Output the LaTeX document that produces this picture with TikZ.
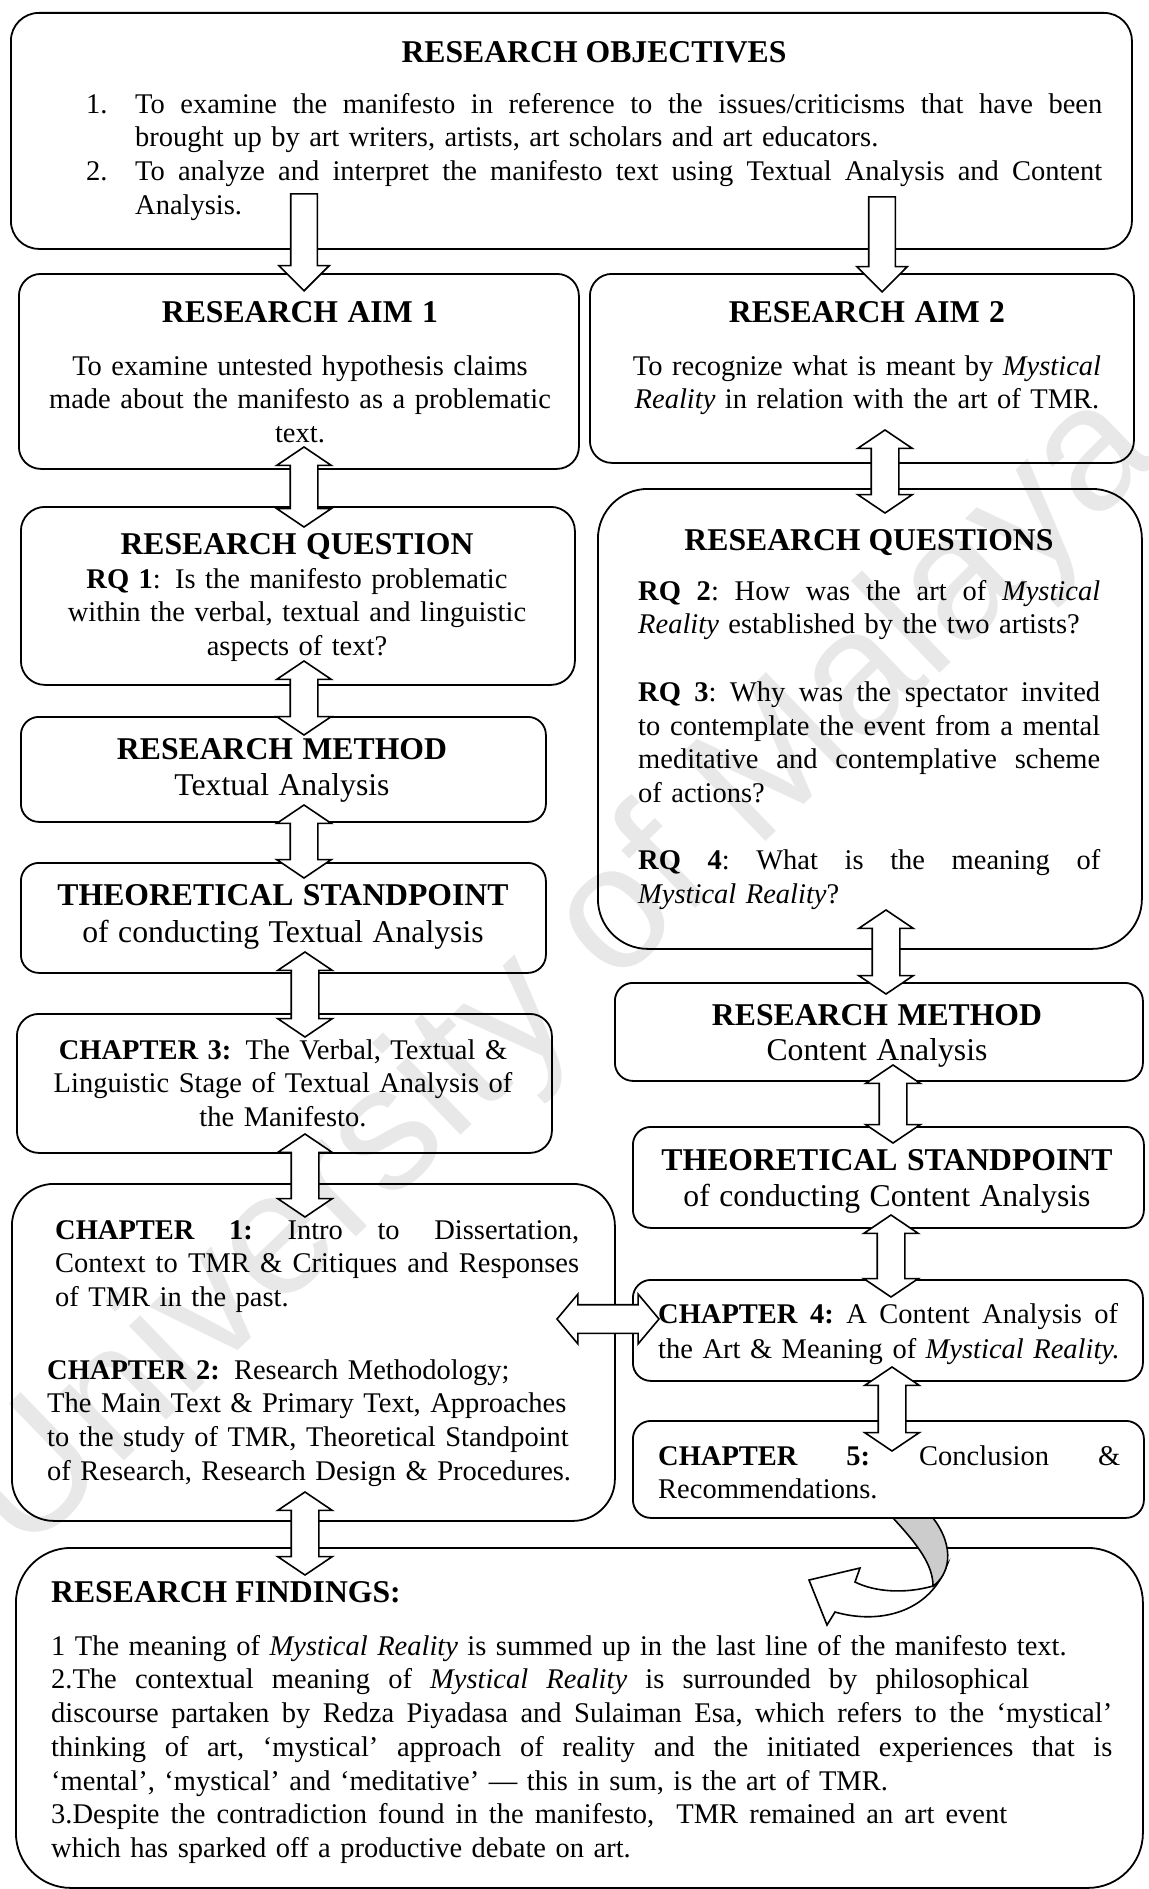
\documentclass[tikz,border=0pt]{standalone}
\usepackage{fontspec}
\setmainfont{Liberation Serif}
\newfontfamily\wmfamily{Liberation Sans}
\usetikzlibrary{shapes.arrows}

\newcommand{\bdf}{\fontsize{28.5pt}{33.7pt}\selectfont}
\newcommand{\hdf}{\fontsize{31.7pt}{36pt}\selectfont\bfseries}
\newcommand{\mdf}{\fontsize{31.7pt}{36pt}\selectfont}
% a line spread to a given width
\newcommand{\jl}[2]{\makebox[#1][s]{\frenchspacing\spaceskip=.25em plus 1fill\relax#2}}

\begin{document}
\begin{tikzpicture}[
  x=1pt, y=-1pt,
  font=\bdf,
  bx/.style={draw, line width=1.8pt, anchor=north west, inner sep=0pt, rounded corners=#1},
  bx/.default=18pt,
  txt/.style={anchor=north, yshift=23.59pt, inner sep=0pt, align=center},
  dbl/.style={double arrow, draw, fill=white, line width=1.6pt, inner xsep=0pt,
              inner ysep=13pt, double arrow head extend=13.5pt, double arrow tip angle=112},
  dblv/.style={dbl, rotate=90},
  sgl/.style={single arrow, draw, fill=white, line width=1.6pt, inner xsep=0pt,
              inner ysep=12.5pt, single arrow head extend=12pt, single arrow tip angle=90,
              rotate=-90, anchor=tip},
  curl/.style={draw, line width=1.6pt}
]
\useasboundingbox (0,0) rectangle (1148,1889);

\node[rotate=44, text=black!9, inner sep=0pt,
      font=\wmfamily\fontsize{176pt}{176pt}\selectfont] (wm) at (562,975) {University of Malaya};

% ---------------- boxes ----------------
\node[bx=28pt, minimum width=1121pt, minimum height=236pt] (obj)  at (10,12) {};
\node[bx=22pt, minimum width=560pt,  minimum height=195pt] (aimA) at (18,273) {};
\node[bx=22pt, minimum width=544pt,  minimum height=189pt] (aimB) at (589,273) {};
\node[bx=24pt, minimum width=554pt,  minimum height=178pt] (rqA)  at (20,506) {};
\node[bx,      minimum width=525pt,  minimum height=105pt] (rmA)  at (20,716) {};
\node[bx,      minimum width=525pt,  minimum height=110pt] (tsA)  at (20,862) {};
\node[bx=22pt, minimum width=535pt,  minimum height=139pt] (chC)  at (16,1013) {};
\node[bx=42pt, minimum width=603pt,  minimum height=337pt] (chAB) at (11,1183) {};
\node[bx=50pt, minimum width=544pt,  minimum height=460pt] (rqB)  at (597,488) {};
\node[bx,      minimum width=528pt,  minimum height=98pt]  (rmB)  at (614,982) {};
\node[bx,      minimum width=511pt,  minimum height=101pt] (tsB)  at (632,1126) {};
\node[bx,      minimum width=510pt,  minimum height=101pt] (chD)  at (632,1279) {};
\node[bx,      minimum width=511pt,  minimum height=97pt]  (chE)  at (632,1420) {};
\node[bx=55pt, minimum width=1127pt, minimum height=340pt] (find) at (15,1547) {};

% ---------------- block arrows ----------------
\node[sgl, minimum height=97pt] (oa1) at (304,292) {};
\node[sgl, minimum height=95pt] (oa2) at (882,293) {};

\node[dblv, minimum height=80pt] (l1) at (304,487) {};
\node[dblv, minimum height=74pt] (l2) at (304,698) {};
\node[dblv, minimum height=73pt] (l3) at (304,841.5) {};
\node[dblv, minimum height=85pt] (l4) at (305,994.5) {};
\node[dblv, minimum height=83pt] (l5) at (305,1175.5) {};
\node[dblv, minimum height=83pt] (l6) at (305,1533.5) {};

\node[dblv, minimum height=83pt] (r1) at (885,471.5) {};
\node[dblv, minimum height=84pt] (r2) at (886,952) {};
\node[dblv, minimum height=78pt] (r3) at (893,1104) {};
\node[dblv, minimum height=82pt] (r4) at (891,1256) {};
\node[dblv, minimum height=84pt] (r5) at (892,1409) {};

\node[dbl, minimum height=102pt, inner ysep=13.5pt, double arrow head extend=10.5pt,
      double arrow tip angle=100] (hx) at (608,1319) {};

% curled arrow from chapter 5 down to the findings
\draw[curl, fill=white] (933,1586) .. controls (905,1594) and (875,1592) .. (855,1582)
  -- (860,1568) -- (809,1580) -- (827,1625) -- (835,1612)
  .. controls (880,1625) and (930,1612) .. (947,1565) -- cycle;
\draw[curl, fill=black!20] (893,1518) .. controls (918,1545) and (933,1565) .. (933,1586)
  .. controls (949,1575) and (956,1548) .. (933,1518) -- cycle;

% ---------------- texts ----------------
\node[txt] (objH) at (594,62) {\strut{\hdf RESEARCH OBJECTIVES}};
\node[txt, anchor=north west, align=left, text width=1030pt] (objL) at (86,113)
  {\strut\makebox[49pt][l]{1.}\jl{967pt}{To examine the manifesto in reference to the issues/criticisms that have been}\\
   \hspace*{49pt}brought up by art writers, artists, art scholars and art educators.\\
   \makebox[49pt][l]{2.}\jl{967pt}{To analyze and interpret the manifesto text using Textual Analysis and Content}\\
   \hspace*{49pt}Analysis.};

\node[txt, text width=540pt] (aimAt) at (300,322)
  {\strut{\hdf RESEARCH AIM 1}\\[19.3pt]
   To examine untested hypothesis claims\\
   made about the manifesto as a problematic\\
   text.};
\node[txt, text width=520pt] (aimBt) at (867,322)
  {\strut{\hdf RESEARCH AIM 2}\\[19.3pt]
   To recognize what is meant by \textit{Mystical}\\
   \textit{Reality} in relation with the art of TMR.};

\node[txt, text width=530pt] (rqAt) at (297,554)
  {\strut{\hdf RESEARCH QUESTION}\\[0.3pt]
   \textbf{RQ 1}: Is the manifesto problematic\\
   within the verbal, textual and linguistic\\
   aspects of text?};
\node[txt, text width=500pt] (rmAt) at (282,759)
  {\strut{\hdf RESEARCH METHOD}\\[2.3pt] {\mdf Textual Analysis}};
\node[txt, text width=500pt] (tsAt) at (283,905)
  {\strut{\hdf THEORETICAL STANDPOINT}\\[3.3pt] {\mdf of conducting Textual Analysis}};
\node[txt, text width=520pt] (chCt) at (283,1059)
  {\strut\textbf{CHAPTER 3:} The Verbal, Textual \&\\
   Linguistic Stage of Textual Analysis of\\
   the Manifesto.};

\node[txt, anchor=north west, align=left, text width=540pt] (chAt) at (55,1239)
  {\strut\jl{524pt}{\textbf{CHAPTER 1:} Intro to Dissertation,}\\
   \jl{524pt}{Context to TMR \& Critiques and Responses}\\
   of TMR in the past.};
\node[txt, anchor=north west, align=left, text width=550pt] (chBt) at (47,1379)
  {\strut\textbf{CHAPTER 2:} Research Methodology;\\
   The Main Text \& Primary Text, Approaches\\
   to the study of TMR, Theoretical Standpoint\\
   of Research, Research Design \& Procedures.};

\node[txt] (rqBh) at (869,550) {\strut{\hdf RESEARCH QUESTIONS}};
\node[txt, anchor=north west, align=left, text width=480pt] (rqBt) at (638,600)
  {\strut\jl{462pt}{\textbf{RQ 2}: How was the art of \textit{Mystical}}\\
   \textit{Reality} established by the two artists?\\[33.7pt]
   \jl{462pt}{\textbf{RQ 3}: Why was the spectator invited}\\
   \jl{462pt}{to contemplate the event from a mental}\\
   \jl{462pt}{meditative and contemplative scheme}\\
   of actions?\\[33.7pt]
   \jl{462pt}{\textbf{RQ 4}: What is the meaning of}\\
   \textit{Mystical Reality}?};

\node[txt, text width=500pt] (rmBt) at (877,1025)
  {\strut{\hdf RESEARCH METHOD}\\[1.3pt] {\mdf Content Analysis}};
\node[txt, text width=500pt] (tsBt) at (887,1170)
  {\strut{\hdf THEORETICAL STANDPOINT}\\[2.3pt] {\mdf of conducting Content Analysis}};
\node[txt, anchor=north west, align=left, text width=520pt] (chDt) at (658,1323)
  {\strut\jl{460pt}{\textbf{CHAPTER 4:} A Content Analysis of}\\[1.3pt]
   the Art \& Meaning of \textit{Mystical Reality.}};
\node[txt, anchor=north west, align=left, text width=520pt] (chEt) at (658,1465)
  {\strut\jl{462pt}{\textbf{CHAPTER 5:} Conclusion \&}\\
   Recommendations.};

\node[txt, anchor=north west] (findH) at (51,1602) {\strut{\hdf RESEARCH FINDINGS:}};
\node[txt, anchor=north west, align=left, text width=1085pt] (findT) at (51,1655)
  {\strut 1 The meaning of \textit{Mystical Reality} is summed up in the last line of the manifesto text.\\
   \jl{978pt}{2.The contextual meaning of \textit{Mystical Reality} is surrounded by philosophical}\\
   \jl{1061pt}{discourse partaken by Redza Piyadasa and Sulaiman Esa, which refers to the ‘mystical’}\\
   \jl{1061pt}{thinking of art, ‘mystical’ approach of reality and the initiated experiences that is}\\
   ‘mental’, ‘mystical’ and ‘meditative’ — this in sum, is the art of TMR.\\
   \jl{956pt}{3.Despite the contradiction found in the manifesto,\ \ TMR remained an art event}\\
   which has sparked off a productive debate on art.};

\end{tikzpicture}
\end{document}
